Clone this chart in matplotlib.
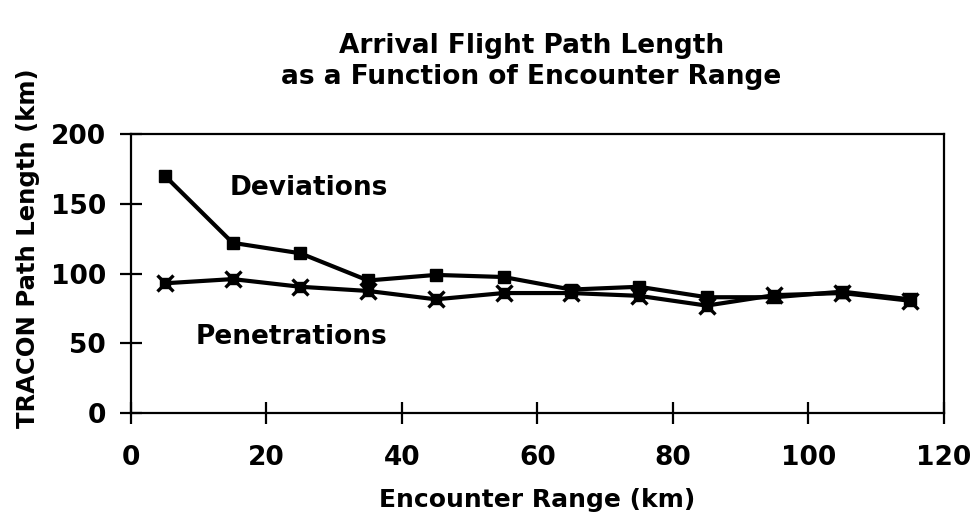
import matplotlib
matplotlib.use("Agg")
import matplotlib.pyplot as plt

plt.rcParams['font.family'] = ['DejaVu Sans']
plt.rcParams['font.weight'] = 'bold'

encounter_range = [5, 15, 25, 35, 45, 55, 65, 75, 85, 95, 105, 115]
deviations = [170, 122, 114.5, 95, 99, 97.5, 88.5, 90.5, 83, 83, 87, 81.5]
penetrations = [93, 96, 90.5, 87.5, 81.5, 86, 86, 84, 77, 84.5, 86, 80.5]

x_ticks = [0, 20, 40, 60, 80, 100, 120]
y_ticks = [0, 50, 100, 150, 200]

fig = plt.figure(figsize=(9.75, 5.31), dpi=100)
ax = fig.add_axes([0.1344, 0.2222, 0.8335, 0.5254])

ax.plot(encounter_range, deviations, color='black', lw=3, marker='s',
        markersize=9, zorder=3)
ax.plot(encounter_range, penetrations, color='black', lw=3, marker='s',
        markersize=7.5, zorder=3)
ax.plot(encounter_range, penetrations, color='black', lw=0, marker='x',
        markersize=11, mew=2.4, zorder=3)

ax.set_xlim(0, 120)
ax.set_ylim(0, 200)
ax.set_xticks(x_ticks)
ax.set_yticks(y_ticks)
ax.tick_params(axis='both', direction='inout', length=16, width=1.6,
               labelsize=19)
ax.tick_params(axis='y', pad=10)
ax.tick_params(axis='x', pad=15)
for lab in ax.get_xticklabels() + ax.get_yticklabels():
    lab.set_fontweight('bold')
for s in ax.spines.values():
    s.set_linewidth(1.6)

ax.set_xlabel('Encounter Range (km)', fontsize=18, fontweight='bold')
ax.xaxis.set_label_coords(0.5, -0.27)
ax.set_ylabel('TRACON Path Length (km)', fontsize=17.5, fontweight='bold')
ax.yaxis.set_label_coords(-0.112, 0.59)

ax.text(14.5, 161, 'Deviations', fontsize=19, fontweight='bold', va='center')
ax.text(9.6, 54.5, 'Penetrations', fontsize=19, fontweight='bold', va='center')

fig.text(0.545, 0.937, 'Arrival Flight Path Length\nas a Function of Encounter Range',
         ha='center', va='top', fontsize=19, fontweight='bold', linespacing=1.25)

fig.savefig('out.png', dpi=100)
